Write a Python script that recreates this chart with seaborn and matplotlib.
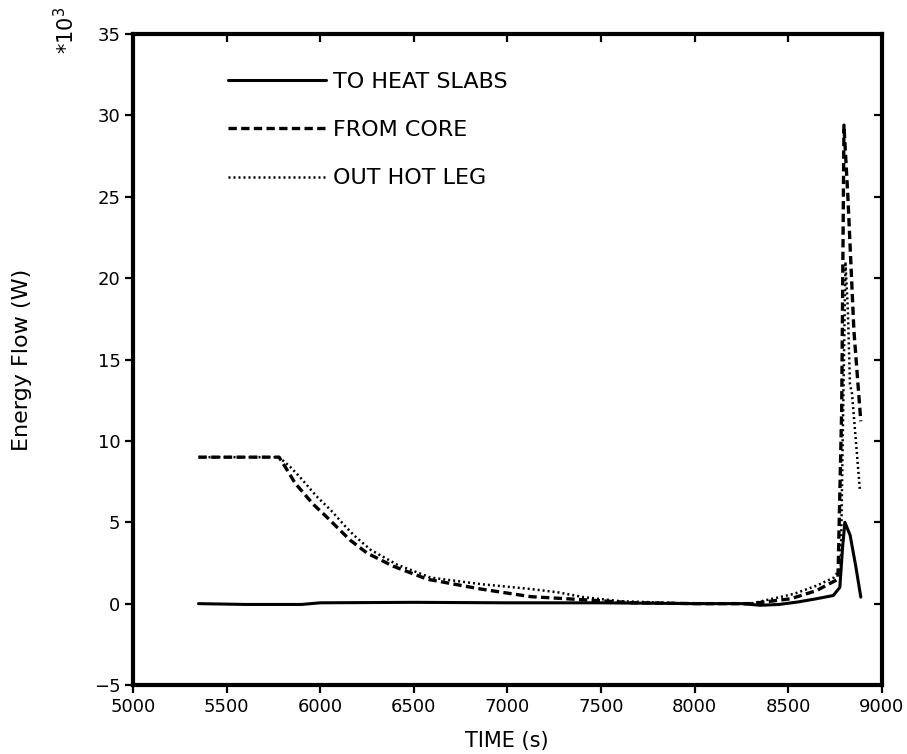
import numpy as np
import pandas as pd
import matplotlib
matplotlib.use("Agg")
import matplotlib.pyplot as plt
import seaborn as sns

# values in units of 10^3 W
t_slabs = [5350, 5600, 5900, 6000, 6500, 7000, 7500, 8000, 8250, 8350, 8450, 8550, 8650, 8740, 8775, 8790, 8802, 8830, 8860, 8887]
e_slabs = [0.0, -0.05, -0.05, 0.05, 0.08, 0.05, 0.05, 0.0, 0.0, -0.1, -0.05, 0.1, 0.3, 0.5, 1.0, 3.5, 5.0, 4.2, 2.3, 0.4]

t_core = [5350, 5780, 5824, 5866, 5963, 6037, 6107, 6160, 6251, 6390, 6572, 6856, 7123, 7390, 7658, 8000, 8300, 8513, 8650, 8765, 8785, 8797, 8818, 8850, 8887]
e_core = [9.0, 9.0, 8.2, 7.4, 6.1, 5.3, 4.5, 3.9, 3.1, 2.3, 1.5, 0.9, 0.43, 0.25, 0.06, 0.0, 0.0, 0.3, 0.8, 1.5, 12.0, 29.4, 25.0, 16.8, 11.2]

t_hot = [5350, 5780, 5840, 5890, 5980, 6060, 6130, 6180, 6270, 6410, 6590, 6856, 7123, 7267, 7406, 7600, 8000, 8300, 8530, 8650, 8743, 8780, 8805, 8818, 8829, 8840, 8882]
e_hot = [9.0, 9.0, 8.4, 7.8, 6.6, 5.7, 4.8, 4.2, 3.3, 2.4, 1.6, 1.2, 0.9, 0.7, 0.4, 0.15, 0.0, 0.0, 0.6, 1.1, 1.6, 2.2, 21.0, 18.0, 13.5, 12.9, 7.0]

x_ticks = np.arange(5000, 9001, 500)
y_ticks = np.arange(-5, 36, 5)

sns.set_theme(style="white")
plt.rcParams['font.family'] = ['DejaVu Sans']
plt.rcParams['text.color'] = 'black'

fig = plt.figure(figsize=(9.07, 7.54), dpi=100)
ax = fig.add_axes([0.1466, 0.0915, 0.8258, 0.8634])

sns.lineplot(x=t_slabs, y=e_slabs, ax=ax, color="black", linewidth=2.2,
             label="TO HEAT SLABS", sort=False)
sns.lineplot(x=t_core, y=e_core, ax=ax, color="black", linewidth=2.4,
             label="FROM CORE", sort=False)
sns.lineplot(x=t_hot, y=e_hot, ax=ax, color="black", linewidth=1.8,
             label="OUT HOT LEG", sort=False)
lines = ax.get_lines()
lines[1].set_dashes([2.5, 1.3])
lines[2].set_dashes([0.8, 1.2])

ax.set_xlim(5000, 9000)
ax.set_ylim(-5, 35)
ax.set_xticks(x_ticks)
ax.set_yticks(y_ticks)
ax.set_xlabel("")
ax.set_ylabel("")
ax.tick_params(axis="both", labelsize=13, direction="out", length=6, width=1.6,
               colors="black", pad=3)
ax.tick_params(top=True, right=True, bottom=True, left=True)
# top and right ticks point inward
for tl in ax.xaxis.get_ticklines()[1::2]:
    tl.set_marker(3)
for tl in ax.yaxis.get_ticklines()[1::2]:
    tl.set_marker(0)
for sp in ax.spines.values():
    sp.set_linewidth(3.0)
    sp.set_color("black")

fig.text(507 / 907, 1 - 741 / 754, "TIME (s)", fontsize=15, ha="center", va="center")
fig.text(22 / 907, 1 - 360 / 754, "Energy Flow (W)", fontsize=16, rotation=90,
         ha="center", va="center")
fig.text(66 / 907, 1 - 30 / 754, r"$*10^3$", rotation=90, fontsize=15,
         va="center", ha="center")

leg = ax.legend(loc="upper left", frameon=False, fontsize=16, handlelength=4.4,
                labelspacing=1.27, borderpad=0, borderaxespad=0,
                bbox_to_anchor=((228 - 133) / 749, 1 - (72 - 34) / 651),
                handletextpad=0.32)
for txt in leg.get_texts():
    txt.set_color("black")

fig.savefig("out.png", dpi=100)
